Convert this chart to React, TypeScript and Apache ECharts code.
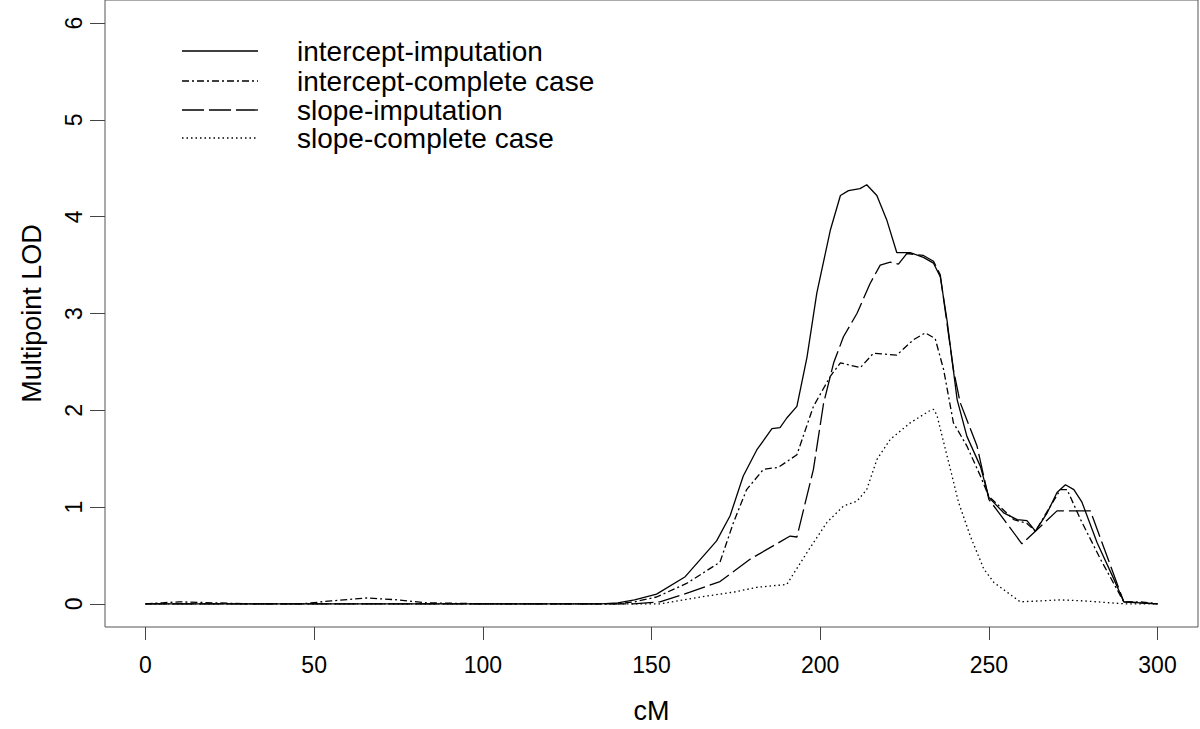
import React, { useEffect, useRef } from "react";
import * as echarts from "echarts";

const xTicks = [0, 50, 100, 150, 200, 250, 300];
const yTicks = [0, 1, 2, 3, 4, 5, 6];

const seriesNames = [
  "intercept-imputation",
  "intercept-complete case",
  "slope-imputation",
  "slope-complete case",
];

// intercept-imputation (solid)
const iiX = [0, 10, 20, 30, 50, 100, 135, 140, 145, 151.5, 160, 169.3, 173.3, 177.2, 181.2, 185.7, 188.1, 190.1, 193.1, 196.1, 199, 203, 206, 208.4, 211.8, 213.8, 216.8, 219.8, 222.7, 226.7, 230.6, 233.6, 235.6, 237.6, 240.6, 243.5, 247.5, 250, 254.4, 258.4, 261.3, 263.8, 267.3, 270.2, 272.7, 275.2, 277.6, 282.1, 287, 290, 295, 300];
const iiY = [0, 0, 0, 0, 0, 0, 0, 0.01, 0.04, 0.1, 0.28, 0.65, 0.91, 1.32, 1.59, 1.81, 1.82, 1.92, 2.04, 2.55, 3.21, 3.86, 4.22, 4.27, 4.29, 4.33, 4.22, 3.96, 3.63, 3.63, 3.58, 3.52, 3.38, 2.93, 2.11, 1.73, 1.42, 1.1, 0.94, 0.87, 0.86, 0.75, 0.94, 1.15, 1.23, 1.18, 1.05, 0.63, 0.26, 0.02, 0.01, 0];

// intercept-complete case (dot-dash)
const icX = [0, 5, 10, 20, 30, 46.6, 55, 65.5, 75, 83.3, 100, 140, 145, 151.5, 160.4, 170.3, 174.3, 178.2, 183.2, 187.6, 193.1, 198, 203, 206, 211.9, 215.8, 222.7, 227.7, 231.2, 234.1, 236.6, 239.5, 243.5, 247.5, 250, 257.4, 261.3, 263.8, 271.2, 273.2, 277.2, 283.1, 290, 295, 300];
const icY = [0, 0.01, 0.02, 0.01, 0, 0, 0.03, 0.06, 0.04, 0.01, 0, 0, 0.02, 0.07, 0.21, 0.43, 0.84, 1.18, 1.39, 1.41, 1.54, 2.04, 2.35, 2.49, 2.44, 2.59, 2.57, 2.73, 2.8, 2.74, 2.42, 1.87, 1.63, 1.32, 1.11, 0.87, 0.83, 0.75, 1.18, 1.18, 0.87, 0.46, 0.02, 0.02, 0];

// slope-imputation (long dash)
const siX = [0, 50, 100, 144.5, 152.5, 161.4, 170.3, 179.2, 191.1, 193.1, 198, 201, 204, 206.9, 210.9, 214.8, 217.8, 220.8, 223.2, 225.7, 230.6, 233.6, 235.6, 239.5, 241.5, 246.5, 250, 259.8, 263.8, 270.2, 280.1, 290, 300];
const siY = [0, 0, 0, 0, 0.02, 0.12, 0.23, 0.46, 0.7, 0.69, 1.39, 2.07, 2.49, 2.76, 3.0, 3.31, 3.5, 3.53, 3.51, 3.62, 3.6, 3.54, 3.4, 2.42, 2.08, 1.63, 1.08, 0.62, 0.75, 0.96, 0.96, 0.02, 0];

// slope-complete case (dotted)
const scX = [0, 100, 152.5, 164.4, 174.3, 181.2, 190.1, 196.1, 202, 206.9, 210.9, 213.8, 216.8, 220.8, 226.7, 232.2, 233.6, 234.6, 238.6, 241, 244.5, 248.5, 251.5, 259.3, 271.2, 278.1, 290, 300];
const scY = [0, 0, 0, 0.07, 0.12, 0.17, 0.2, 0.53, 0.84, 1.01, 1.06, 1.18, 1.49, 1.7, 1.87, 1.99, 2.01, 1.95, 1.39, 1.05, 0.7, 0.36, 0.22, 0.02, 0.04, 0.03, 0, 0];

const FONT = "Liberation Sans, Arial, sans-serif";
const dashes: (number[] | "solid")[] = ["solid", [7, 3, 2, 3], [22, 5], [1.5, 3]];

export default function App() {
  const ref = useRef<HTMLDivElement>(null);
  useEffect(() => {
    if (!ref.current) return;
    const chart = echarts.init(ref.current, undefined, { renderer: "svg" });
    const xs = [iiX, icX, siX, scX];
    const ys = [iiY, icY, siY, scY];
    const series = seriesNames.map((name, i) => ({
      name,
      type: "line",
      symbol: "none",
      smooth: false,
      silent: true,
      data: xs[i].map((x, j) => [x, ys[i][j]]),
      lineStyle: { color: "#000", width: 1.3, type: dashes[i] },
    }));
    const legendY = [51, 81, 110, 138];
    const graphic: any[] = [];
    seriesNames.forEach((name, i) => {
      graphic.push({
        type: "line",
        shape: { x1: 182, y1: legendY[i], x2: 258, y2: legendY[i] },
        style: {
          stroke: "#000",
          lineWidth: 1.3,
          lineDash: dashes[i] === "solid" ? null : dashes[i],
        },
      });
      graphic.push({
        type: "text",
        x: 297,
        y: legendY[i],
        style: {
          text: name,
          fontSize: 28,
          fontFamily: FONT,
          fill: "#000",
          verticalAlign: "middle",
          align: "left",
        },
      });
    });
    chart.setOption({
      animation: false,
      grid: {
        left: 105,
        right: 2,
        top: 0,
        bottom: 101,
        show: true,
        borderColor: "#555",
        borderWidth: 1,
        containLabel: false,
      },
      xAxis: {
        type: "value",
        min: -12,
        max: 312,
        name: "cM",
        nameLocation: "middle",
        nameGap: 70,
        nameTextStyle: { fontSize: 27, fontFamily: FONT, color: "#000" },
        axisLine: { show: false, onZero: false },
        splitLine: { show: false },
        axisTick: {
          show: true,
          length: 13,
          customValues: xTicks,
          lineStyle: { color: "#444", width: 1 },
        },
        axisLabel: {
          customValues: xTicks,
          fontSize: 23,
          fontFamily: FONT,
          color: "#000",
          margin: 26,
        },
      },
      yAxis: {
        type: "value",
        min: -0.24,
        max: 6.24,
        name: "Multipoint LOD",
        nameLocation: "middle",
        nameRotate: 90,
        nameGap: 60,
        nameTextStyle: { fontSize: 27, fontFamily: FONT, color: "#000" },
        axisLine: { show: false, onZero: false },
        splitLine: { show: false },
        axisTick: {
          show: true,
          length: 15,
          customValues: yTicks,
          lineStyle: { color: "#444", width: 1 },
        },
        axisLabel: {
          customValues: yTicks,
          rotate: 90,
          fontSize: 23,
          fontFamily: FONT,
          color: "#000",
          margin: 20,
        },
      },
      graphic,
      series,
    });
    return () => chart.dispose();
  }, []);
  return (
    <div
      ref={ref}
      style={{ position: "fixed", left: 0, top: 0, width: 1200, height: 729, background: "#fff" }}
    />
  );
}
